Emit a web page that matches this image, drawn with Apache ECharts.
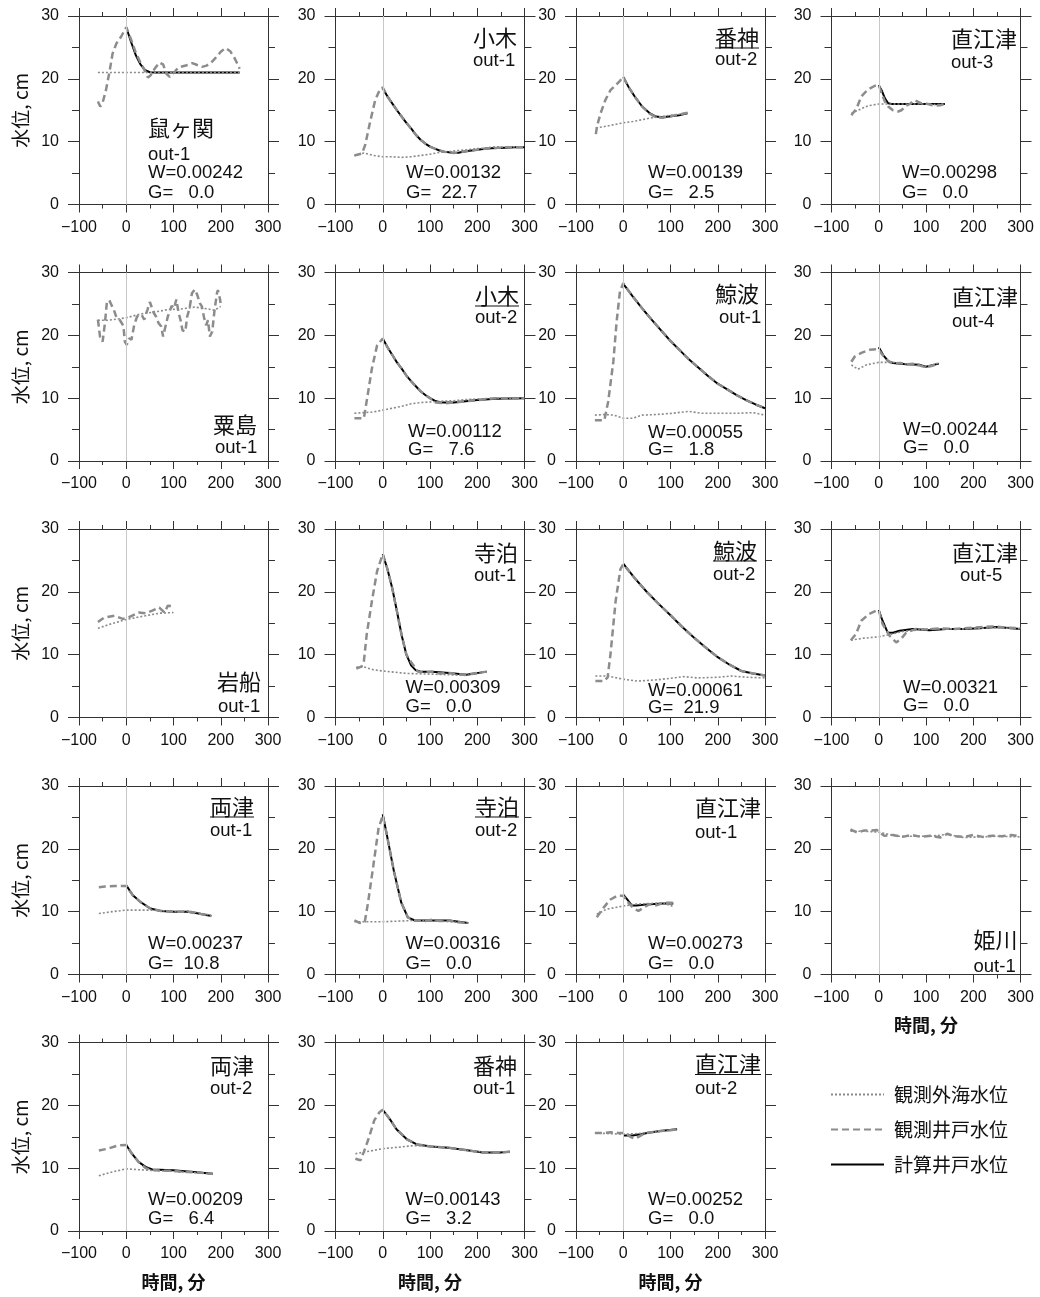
<!DOCTYPE html>
<html><head><meta charset="utf-8">
<script src="https://cdn.jsdelivr.net/npm/echarts@6/dist/echarts.min.js"></script>
<style>html,body{margin:0;padding:0;background:#fff}#c{width:1040px;height:1297px}</style>
</head><body><div id="c"></div>
<script>
// ---------- text / categories ----------
const seriesNames = ['観測外海水位', '観測井戸水位', '計算井戸水位'];
const xAxisTitle = '時間, 分';
const yAxisTitle = '水位, cm';
const xMin = -100, xMax = 300, xStep = 100;
const yMin = 0, yMax = 30, yStep = 10;

const stationNames = ['鼠ヶ関','小木','番神','直江津','粟島','小木','鯨波','直江津','岩船','寺泊','鯨波','直江津','両津','寺泊','直江津','姫川','両津','番神','直江津'];
const outNames = ['out-1','out-1','out-2','out-3','out-1','out-2','out-1','out-4','out-1','out-1','out-2','out-5','out-1','out-2','out-1','out-1','out-2','out-1','out-2'];
const wLabels = ['W=0.00242','W=0.00132','W=0.00139','W=0.00298','','W=0.00112','W=0.00055','W=0.00244','','W=0.00309','W=0.00061','W=0.00321','W=0.00237','W=0.00316','W=0.00273','','W=0.00209','W=0.00143','W=0.00252'];
const gLabels = ['G=   0.0','G=  22.7','G=   2.5','G=   0.0','','G=   7.6','G=   1.8','G=   0.0','','G=   0.0','G=  21.9','G=   0.0','G=  10.8','G=   0.0','G=   0.0','','G=   6.4','G=   3.2','G=   0.0'];
const underlined = [false,false,true,false,false,true,false,false,false,false,true,false,true,true,false,false,false,false,true];

// ---------- series values [minutes, cm] ----------
const p01Sea  = [[-60,21],[0,21],[60,21],[120,21],[180,21],[240,21]];
const p01Well = [[-60,16.4],[-55,15.6],[-50,16.2],[-43,18.2],[-36,20.9],[-29,24],[-21,25.6],[-11,26.7],[0,28.2],[10,26.3],[20,24.2],[30,22.6],[40,21.2],[46,20.2],[52,20.6],[60,21.6],[70,22.6],[78,22.3],[85,20.8],[92,20.3],[100,20.9],[110,21.8],[120,22],[130,22.2],[140,22.5],[150,22.2],[160,21.9],[170,22.1],[180,22.6],[190,23.4],[200,24.3],[210,24.9],[220,24.4],[230,23.2],[240,21.6]];
const p01Calc = [[0,28.2],[10,25.9],[20,23.8],[30,22.3],[40,21.4],[50,21.05],[60,21],[100,21],[150,21],[200,21],[240,21]];

const p02Sea  = [[-60,7.8],[-50,8.0],[-40,8.2],[-30,8.0],[-20,7.8],[-10,7.7],[0,7.6],[20,7.6],[40,7.5],[60,7.6],[80,7.8],[100,8.0],[120,8.3],[140,8.4],[160,8.6],[180,8.7],[200,8.9],[220,9.0],[240,9.2],[260,9.1],[280,9.2],[300,9.2]];
const p02Well = [[-60,7.8],[-50,8.0],[-44,8.1],[-37,9.5],[-30,12],[-26,13.4],[-16,16.6],[-5,18.5],[0,18.6],[10,17.2],[20,16.1],[30,15.0],[40,14.0],[50,13.0],[60,12.1],[70,11.1],[80,10.3],[90,9.7],[100,9.2],[110,8.9],[120,8.6],[130,8.4],[140,8.3],[150,8.2],[160,8.3],[170,8.4],[180,8.5],[200,8.7],[220,8.9],[240,9.0],[260,9.1],[280,9.1],[300,9.1]];
const p02Calc = [[0,18.5],[10,17.2],[20,16.1],[30,15.0],[40,14.0],[50,13.0],[60,12.1],[70,11.1],[80,10.3],[90,9.7],[100,9.2],[110,8.9],[120,8.6],[130,8.4],[140,8.3],[150,8.2],[160,8.25],[170,8.4],[180,8.5],[200,8.7],[220,8.9],[240,9.0],[260,9.05],[280,9.1],[300,9.1]];

const p03Sea  = [[-58,12.2],[-40,12.4],[-20,12.7],[0,13.0],[20,13.2],[40,13.5],[60,13.8],[80,14.0],[100,14.2],[120,14.4],[136,14.6]];
const p03Well = [[-58,11.2],[-56,12.2],[-54,12.9],[-48,14.5],[-38,16.6],[-27,18.2],[-16,19],[-8,19.6],[0,20.3],[12,18.6],[26,17],[40,15.6],[55,14.5],[69,13.9],[83,13.8],[97,14.0],[118,14.3],[136,14.6]];
const p03Calc = [[0,20.3],[12,18.6],[26,17],[40,15.6],[55,14.6],[69,14.0],[83,13.9],[97,14.0],[118,14.2],[136,14.5]];

const p04Sea  = [[-58,14.5],[-44,15.0],[-23,15.7],[0,16],[27,16],[60,16],[90,16],[120,15.9],[140,16]];
const p04Well = [[-58,14.2],[-47,15.3],[-37,17.2],[-23,18.3],[-8,18.9],[0,19],[6,17.7],[13,16.4],[20,15.6],[30,15],[41,14.8],[48,15],[58,15.7],[66,16.0],[76,16.6],[90,16.1],[104,16],[118,15.7],[130,15.8],[140,16]];
const p04Calc = [[0,19],[6,18.2],[13,16.9],[20,16.1],[27,16],[60,16],[100,16],[140,16]];

const p05Sea  = [[-60,22.4],[-40,22.4],[-18,22.6],[0,22.8],[31,23.4],[67,23.8],[88,24.1],[116,24.2],[145,24.5],[173,24.2],[187,24],[200,24.6]];
const p05Well = [[-60,22.5],[-55,19.5],[-50,19],[-45,22],[-41,25.3],[-36,25.6],[-31,24.8],[-26,24],[-21,22.9],[-15,22.6],[-10,22],[-6,21.5],[-3,19],[1,18.5],[6,19.5],[11,19.3],[17,21.7],[23,23],[28,23.3],[33,23.2],[38,22.5],[45,24.1],[50,25.3],[54,25],[58,23.6],[63,23],[68,22],[74,21.4],[78,19.8],[82,21.1],[88,23],[92,23.8],[96,24.7],[101,24.3],[106,25.7],[111,23.5],[115,22.4],[119,20.8],[125,20.6],[129,23],[134,24.3],[139,26.7],[145,27.3],[150,26.5],[156,25.1],[160,24.6],[165,22.7],[169,21.6],[173,22.4],[177,19.8],[182,20.6],[187,24.1],[192,26.7],[194,27.2],[198,25.9],[201,24.6]];
const p05Calc = [];

const p06Sea  = [[-60,7.6],[-40,7.7],[-20,7.8],[0,8.1],[20,8.4],[40,8.7],[60,9.1],[80,9.3],[100,9.4],[120,9.5],[150,9.6],[180,9.8],[210,9.9],[240,10],[270,10],[300,10]];
const p06Well = [[-60,6.8],[-50,6.8],[-40,6.8],[-33,10],[-23,14.7],[-12,18.4],[0,19.5],[10,18.1],[20,16.9],[30,15.7],[40,14.7],[50,13.6],[60,12.7],[70,11.9],[80,11.1],[90,10.5],[100,10.0],[112,9.3],[133,9.2],[150,9.3],[176,9.5],[204,9.7],[240,10],[270,9.9],[300,10]];
const p06Calc = [[0,19.5],[10,18.1],[20,16.9],[30,15.7],[40,14.7],[50,13.6],[60,12.7],[70,11.9],[80,11.1],[90,10.5],[100,10.0],[110,9.6],[120,9.35],[130,9.3],[150,9.3],[175,9.5],[200,9.7],[240,9.9],[300,10]];

const p07Sea  = [[-60,7.3],[-40,7.4],[-20,7.3],[0,6.8],[20,6.8],[40,7.3],[70,7.4],[105,7.6],[138,7.9],[165,7.6],[205,7.6],[245,7.6],[275,7.7],[300,7.3]];
const p07Well = [[-60,6.5],[-40,6.5],[-32,9.4],[-21,15.8],[-14,22.2],[-7,27],[0,28.3],[20,26.2],[40,24.3],[60,22.5],[80,20.8],[100,19.1],[120,17.6],[140,16.1],[160,14.8],[180,13.5],[200,12.3],[220,11.4],[240,10.5],[260,9.7],[280,9.0],[300,8.4]];
const p07Calc = [[0,28.2],[20,26.2],[40,24.3],[60,22.5],[80,20.8],[100,19.1],[120,17.6],[140,16.1],[160,14.8],[180,13.5],[200,12.3],[220,11.4],[240,10.5],[260,9.7],[280,9.0],[300,8.4]];

const p08Sea  = [[-58,15.3],[-44,14.6],[-26,15.3],[0,15.7],[30,15.7],[73,15.3],[100,15],[127,15.6]];
const p08Well = [[-58,15.8],[-51,16.6],[-37,17.2],[-19,17.7],[-5,17.8],[0,17.7],[9,16.8],[20,15.9],[30,15.5],[45,15.6],[60,15.4],[75,15.5],[87,15.2],[100,14.9],[115,15.2],[127,15.5]];
const p08Calc = [[0,18.1],[9,16.9],[20,15.9],[30,15.6],[58,15.4],[87,15.3],[100,15.0],[127,15.5]];

const p09Sea  = [[-60,14.2],[-32,14.9],[0,15.6],[41,16.2],[70,16.6],[100,16.7]];
const p09Well = [[-60,15.2],[-47,15.9],[-25,16.2],[-7,15.7],[4,15.9],[26,16.7],[41,16.6],[55,17.0],[70,17.5],[81,16.7],[88,17.8],[100,17.7]];
const p09Calc = [];

const p10Sea  = [[-56,8.0],[-42,8.1],[-20,7.6],[0,7.4],[53,7.0],[104,6.9],[141,6.8],[177,6.7],[200,7.0],[220,7.3]];
const p10Well = [[-56,7.8],[-45,8.1],[-40,8.9],[-34,13.2],[-23,18.5],[-12,23.3],[0,26.0],[10,23.6],[20,20.6],[30,16.9],[40,13.1],[50,10.0],[61,8.7],[75,7.3],[90,7.2],[104,7.3],[120,7.0],[141,7.1],[160,6.9],[177,6.8],[200,7.1],[220,7.3]];
const p10Calc = [[0,26],[10,23.6],[20,20.6],[30,16.9],[40,13.1],[50,10.0],[60,8.3],[70,7.5],[80,7.3],[104,7.3],[141,7.1],[177,6.8],[220,7.3]];

const p11Sea  = [[-59,6.6],[-34,6.6],[0,6.1],[30,5.8],[72,6.0],[129,6.5],[157,6.3],[200,6.4],[228,6.6],[264,6.4],[300,6.3]];
const p11Well = [[-59,5.8],[-41,5.8],[-33,6.4],[-27,10.1],[-16,18.6],[-6,23.6],[0,24.4],[25,22.1],[51,19.9],[76,18.0],[101,16.2],[125,14.4],[150,12.7],[175,11.1],[200,9.6],[225,8.4],[250,7.4],[275,7.0],[300,6.7]];
const p11Calc = [[0,24.5],[25,22.1],[51,19.9],[76,18.0],[101,16.2],[125,14.4],[150,12.7],[175,11.1],[200,9.6],[225,8.4],[250,7.4],[275,7.0],[300,6.7]];

const p12Sea  = [[-59,12.3],[-34,12.6],[0,12.85],[23,13.2],[51,13.7],[107,14.1],[178,14.1],[249,14.3],[300,14.1]];
const p12Well = [[-59,12.3],[-48,13.3],[-37,15.4],[-20,16.5],[-6,17.0],[0,17.1],[8,14.9],[23,13.0],[37,11.95],[47,12.5],[58,13.5],[79,14.1],[100,14.0],[130,14.2],[160,14.1],[200,14.3],[240,14.5],[270,14.3],[300,14.2]];
const p12Calc = [[0,17.1],[8,15.4],[19,13.5],[30,13.5],[44,13.8],[72,14.1],[107,13.9],[143,14.1],[178,14.1],[214,14.2],[249,14.4],[300,14.1]];

const p13Sea  = [[-58,9.7],[-30,10.0],[0,10.25],[29,10.25],[58,10.25],[102,10.0],[132,10.1],[161,9.7],[180,9.4]];
const p13Well = [[-58,13.9],[-45,14.0],[-23,14.1],[0,14.1],[14,12.6],[29,11.6],[51,10.5],[73,10.1],[102,10.0],[131,10.0],[153,9.7],[180,9.3]];
const p13Calc = [[0,14.2],[14,12.6],[29,11.6],[51,10.5],[73,10.1],[102,10.0],[131,10.0],[153,9.7],[180,9.3]];

const p14Sea  = [[-60,8.4],[-42,8.4],[0,8.4],[68,8.6],[120,8.5],[181,8.2]];
const p14Well = [[-60,8.6],[-49,8.2],[-38,8.4],[-31,11.5],[-20,17.3],[-9,23.2],[0,25.3],[9,22.1],[24,16.3],[39,11.5],[53,9.1],[68,8.6],[90,8.5],[104,8.7],[120,8.5],[141,8.6],[160,8.3],[181,8.2]];
const p14Calc = [[0,25.5],[9,22.1],[24,16.3],[39,11.5],[53,9.1],[68,8.6],[104,8.6],[141,8.6],[181,8.2]];

const p15Sea  = [[-56,9.6],[-35,10.4],[0,10.9],[28,11.2],[56,11.3],[85,11.4],[106,10.8]];
const p15Well = [[-56,9.1],[-42,10.6],[-28,11.9],[-11,12.6],[0,12.5],[11,11.4],[21,10.6],[32,10.1],[42,10.6],[56,11.2],[70,11.0],[85,11.4],[106,11.4]];
const p15Calc = [[0,12.7],[11,11.7],[18,11.0],[28,11.0],[56,11.2],[85,11.3],[106,11.3]];

const p16Sea  = [[-60,22.8],[-32,22.8],[0,22.65],[39,22.0],[109,22.0],[145,22.3],[180,21.8],[250,22.0],[300,21.9]];
const p16Well = [[-60,23.1],[-46,22.6],[-32,22.9],[-18,22.9],[-4,23.0],[11,22.1],[30,22.2],[50,21.9],[70,22.2],[90,21.9],[110,22.1],[130,21.8],[145,22.4],[160,22.0],[180,21.9],[200,22.2],[220,21.9],[240,22.1],[260,22.0],[280,22.2],[300,22.0]];
const p16Calc = [];

const p17Sea  = [[-58,8.8],[-32,9.35],[0,9.9],[26,9.75],[63,9.6],[99,9.5],[143,9.3],[183,9.1]];
const p17Well = [[-58,12.8],[-39,13.1],[-18,13.6],[0,13.7],[12,12.3],[26,11.0],[41,10.0],[55,9.7],[80,9.6],[99,9.6],[120,9.4],[143,9.4],[165,9.2],[183,9.1]];
const p17Calc = [[0,13.7],[12,12.3],[26,11.0],[41,10.2],[55,9.8],[99,9.65],[143,9.4],[183,9.1]];

const p18Sea  = [[-58,12.3],[-36,12.6],[0,13.1],[36,13.35],[66,13.6],[102,13.45],[139,13.3],[175,12.85],[212,12.6],[269,12.6]];
const p18Well = [[-58,11.5],[-47,11.25],[-40,12.6],[-29,14.9],[-18,17.6],[-7,18.9],[0,19.3],[15,17.8],[29,16.2],[51,14.6],[73,13.75],[102,13.45],[139,13.25],[175,12.9],[212,12.5],[248,12.5],[269,12.6]];
const p18Calc = [[0,19.3],[15,17.8],[29,16.2],[51,14.6],[73,13.75],[102,13.45],[139,13.25],[175,12.9],[212,12.5],[248,12.5],[269,12.6]];

const p19Sea  = [[-60,15.6],[-30,15.5],[0,15.4],[30,15.5],[57,15.7],[85,15.9],[114,16.2]];
const p19Well = [[-60,15.6],[-45,15.6],[-27,15.7],[-10,15.6],[4,15.6],[15,15.0],[25,14.7],[35,15.1],[46,15.6],[60,15.7],[78,15.9],[95,16.0],[114,16.2]];
const p19Calc = [[0,15.2],[20,15.2],[36,15.4],[60,15.7],[78,15.9],[114,16.2]];

const seaData  = [p01Sea,p02Sea,p03Sea,p04Sea,p05Sea,p06Sea,p07Sea,p08Sea,p09Sea,p10Sea,p11Sea,p12Sea,p13Sea,p14Sea,p15Sea,p16Sea,p17Sea,p18Sea,p19Sea];
const wellData = [p01Well,p02Well,p03Well,p04Well,p05Well,p06Well,p07Well,p08Well,p09Well,p10Well,p11Well,p12Well,p13Well,p14Well,p15Well,p16Well,p17Well,p18Well,p19Well];
const calcData = [p01Calc,p02Calc,p03Calc,p04Calc,p05Calc,p06Calc,p07Calc,p08Calc,p09Calc,p10Calc,p11Calc,p12Calc,p13Calc,p14Calc,p15Calc,p16Calc,p17Calc,p18Calc,p19Calc];

// ---------- layout (positions only) ----------
const colLeft = [79, 335.5, 576, 831.5];
const rowTop = [16, 272.5, 529, 786, 1042.5];
const gridW = 189, gridH = 188.5;
const cells = [[0,0],[0,1],[0,2],[0,3],[1,0],[1,1],[1,2],[1,3],[2,0],[2,1],[2,2],[2,3],[3,0],[3,1],[3,2],[3,3],[4,0],[4,1],[4,2]];
const xTitlePanels = [15,16,17,18];
// label offsets relative to grid left/top: name x,y ; out x,y ; W x,y ; G y
const labelPos = [
  [69,112, 69,139, 69,157,177],
  [137.5,22, 137.5,45, 70.5,157,177],
  [139,21.5, 139,44, 72,157,177],
  [119.5,23, 119.5,47, 70.5,157,177],
  [134,152.5, 136,175.5, 0,0,0],
  [139.5,23, 139.5,45.5, 72.5,159.5,177.5],
  [139,21.5, 143,45.5, 72,160.5,177.5],
  [120.5,24.5, 120.5,49.5, 71.5,157.5,175.5],
  [138,153, 139,177.5, 0,0,0],
  [138.5,24, 138.5,47, 70,159,178],
  [137,21.5, 137,46, 72,162,179],
  [120.5,24, 128.5,47, 71.5,159,177],
  [131,20.5, 131,45, 69,158,178],
  [139.5,20.5, 139.5,45, 70,158,178],
  [119,22, 119,47, 72,158,178],
  [142,153.5, 142,181, 0,0,0],
  [131,23.5, 131,46.5, 69,157.5,176.5],
  [137.5,23.5, 137.5,46.5, 70,157.5,176.5],
  [119,21.5, 119,46.5, 72,157.5,176.5]
];

const AX = '#333', TXT = '#111';
const latin = '"Liberation Sans", Arial, Helvetica, sans-serif';
const cjk = '"Noto Sans CJK JP", "Noto Sans CJK SC", sans-serif';
const lineColors = ['#8a8a8a', '#8c8c8c', '#000000'];

const grid = [], xAxis = [], yAxis = [], series = [], graphic = [];

function minusFmt(v) { return v < 0 ? '\u2212' + Math.abs(v) : String(v); }

cells.forEach(function (cell, i) {
  const left = colLeft[cell[1]], top = rowTop[cell[0]];
  grid.push({ left: left, top: top, width: gridW, height: gridH, show: false, containLabel: false, outerBoundsMode: 'none' });
  const hasXTitle = xTitlePanels.indexOf(i) >= 0;
  const isFirstCol = cell[1] === 0;
  xAxis.push({
    gridIndex: i, type: 'value', position: 'bottom', min: xMin, max: xMax, interval: xStep,
    axisLine: { show: true, onZero: false, lineStyle: { color: AX, width: 1 } },
    axisTick: { show: true, length: 8, lineStyle: { color: AX, width: 1 } },
    minorTick: { show: true, splitNumber: 2, length: 4, lineStyle: { color: AX, width: 1 } },
    splitLine: { show: false }, minorSplitLine: { show: false },
    axisLabel: { show: true, margin: 15, fontSize: 16, color: TXT, fontFamily: latin, formatter: minusFmt, showMinLabel: true, showMaxLabel: true, hideOverlap: false },
    name: hasXTitle ? xAxisTitle : '', nameLocation: 'middle', nameGap: 42,
    nameTextStyle: { fontSize: 18, color: TXT, fontFamily: cjk, fontWeight: 'bold' }
  });
  xAxis.push({
    gridIndex: i, type: 'value', position: 'top', min: xMin, max: xMax, interval: xStep,
    axisLine: { show: true, onZero: false, lineStyle: { color: AX, width: 1 } },
    axisTick: { show: true, length: 8, lineStyle: { color: AX, width: 1 } },
    minorTick: { show: true, splitNumber: 2, length: 4, lineStyle: { color: AX, width: 1 } },
    splitLine: { show: false }, axisLabel: { show: false }
  });
  yAxis.push({
    gridIndex: i, type: 'value', position: 'left', min: yMin, max: yMax, interval: yStep,
    axisLine: { show: true, onZero: false, lineStyle: { color: AX, width: 1 } },
    axisTick: { show: true, length: 11, lineStyle: { color: AX, width: 1 } },
    minorTick: { show: true, splitNumber: 2, length: 7, lineStyle: { color: AX, width: 1 } },
    splitLine: { show: false }, minorSplitLine: { show: false },
    axisLabel: { show: true, margin: 20, fontSize: 16, color: TXT, fontFamily: latin, showMinLabel: true, showMaxLabel: true, hideOverlap: false },
    name: isFirstCol ? yAxisTitle : '', nameLocation: 'middle', nameGap: 49, nameRotate: 90,
    nameTextStyle: { fontSize: 19, color: TXT, fontFamily: cjk }
  });
  yAxis.push({
    gridIndex: i, type: 'value', position: 'right', min: yMin, max: yMax, interval: yStep,
    axisLine: { show: true, onZero: false, lineStyle: { color: AX, width: 1 } },
    axisTick: { show: true, length: 11, lineStyle: { color: AX, width: 1 } },
    minorTick: { show: true, splitNumber: 2, length: 7, lineStyle: { color: AX, width: 1 } },
    splitLine: { show: false }, axisLabel: { show: false }
  });
  const xi = 2 * i, yi = 2 * i;
  const base = { type: 'line', xAxisIndex: xi, yAxisIndex: yi, symbol: 'none', showSymbol: false, animation: false, silent: true };
  if (calcData[i].length) {
    series.push(Object.assign({}, base, { name: seriesNames[2], data: calcData[i], z: 2, color: lineColors[2],
      lineStyle: { color: lineColors[2], width: 2, type: 'solid' } }));
  }
  series.push(Object.assign({}, base, { name: seriesNames[0], data: seaData[i], z: 3, color: lineColors[0],
    lineStyle: { color: lineColors[0], width: 1.6, type: [2, 2] },
    markLine: { silent: true, symbol: 'none', animation: false, label: { show: false },
      lineStyle: { color: '#c8c8c8', width: 1, type: 'solid' }, data: [{ xAxis: 0 }] } }));
  series.push(Object.assign({}, base, { name: seriesNames[1], data: wellData[i], z: 4, color: lineColors[1],
    lineStyle: { color: lineColors[1], width: 2.5, type: [7, 4] } }));

  const p = labelPos[i];
  const nameFont = 22;
  graphic.push({ type: 'text', silent: true, x: left + p[0], y: top + p[1],
    style: { text: stationNames[i], fontSize: nameFont, fontFamily: cjk, fill: TXT, align: 'left', verticalAlign: 'middle' } });
  if (underlined[i]) {
    const w = stationNames[i].length * nameFont;
    graphic.push({ type: 'line', silent: true,
      shape: { x1: left + p[0], y1: top + p[1] + 10.5, x2: left + p[0] + w, y2: top + p[1] + 10.5 },
      style: { stroke: TXT, lineWidth: 1.2 } });
  }
  graphic.push({ type: 'text', silent: true, x: left + p[2], y: top + p[3],
    style: { text: outNames[i], fontSize: 18.5, fontFamily: latin, fill: TXT, align: 'left', verticalAlign: 'middle' } });
  if (wLabels[i]) {
    graphic.push({ type: 'text', silent: true, x: left + p[4], y: top + p[5],
      style: { text: wLabels[i], fontSize: 18.5, fontFamily: latin, fill: TXT, align: 'left', verticalAlign: 'middle' } });
    graphic.push({ type: 'text', silent: true, x: left + p[4], y: top + p[6],
      style: { text: gLabels[i], fontSize: 18.5, fontFamily: latin, fill: TXT, align: 'left', verticalAlign: 'middle' } });
  }
});

const chart = echarts.init(document.getElementById('c'), null, { renderer: 'canvas', width: 1040, height: 1297 });
chart.setOption({
  backgroundColor: '#fff',
  animation: false,
  grid: grid, xAxis: xAxis, yAxis: yAxis, series: series, graphic: graphic,
  legend: {
    data: seriesNames, orient: 'vertical', left: 825, top: 1080,
    itemWidth: 53, itemHeight: 18, itemGap: 16, selectedMode: false,
    itemStyle: { opacity: 0 },
    textStyle: { fontSize: 19, color: TXT, fontFamily: cjk, padding: [0, 0, 0, 5] }
  }
});
</script></body></html>
